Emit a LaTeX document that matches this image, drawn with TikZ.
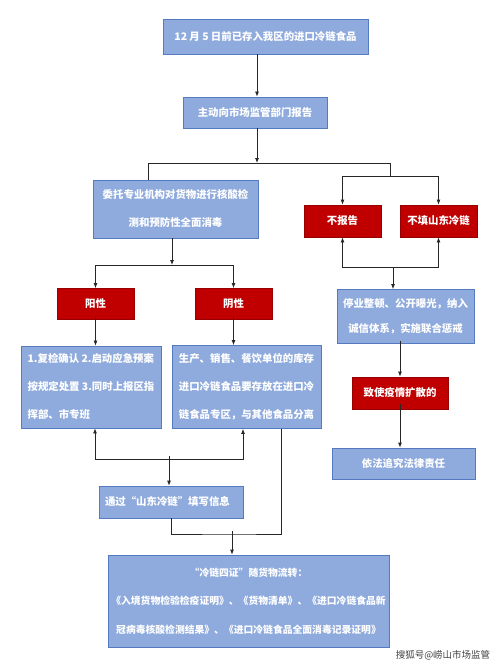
\documentclass[tikz,border=0pt]{standalone}
\usepackage{fontspec}
\newfontfamily\cjk{Noto Sans CJK SC}
\usetikzlibrary{arrows.meta}
\definecolor{boxblue}{RGB}{143,170,220}
\definecolor{boxedge}{RGB}{84,122,192}
\definecolor{alertred}{RGB}{192,0,0}
\definecolor{alertedge}{RGB}{150,0,0}

\begin{document}
\begin{tikzpicture}[x=1pt, y=-1pt,
	box/.style={draw=boxedge, fill=boxblue, line width=0.8pt, text=white, inner sep=0pt,
		font=\cjk\bfseries\fontsize{10.4}{28}\selectfont},
	alert/.style={draw=alertedge, fill=alertred, line width=0.8pt, text=white, inner sep=0pt,
		font=\cjk\bfseries\fontsize{10.4}{12}\selectfont},
	boxsize/.style 2 args={minimum width=#1pt, minimum height=#2pt},
	connect/.style={-{Latex[length=5pt,width=4pt]}, line width=0.8pt, draw=black!85},
	link/.style={line width=0.8pt, draw=black!85},
	]
	
	\useasboundingbox (0,0) rectangle (500,666);
	
	%-----------------------
	% Row heights
	%-----------------------
	\def\hstart{36.5}
	\def\hreport{112.5}
	\def\hsplit{163}
	\def\hresult{304}
	\def\hsteps{387}
	
	%-----------------------
	% Main line
	%-----------------------
	\node[box, boxsize={205}{35}] (start) at (265.5,\hstart) {12 月 5 日前已存入我区的进口冷链食品};
	\node[box, boxsize={144}{31}] (report) at (255,\hreport) {主动向市场监管部门报告};
	
	%-----------------------
	% Left branch: testing
	%-----------------------
	\node[box, boxsize={165}{58}, align=center] (entrust) at (175.5,209) {委托专业机构对货物进行核酸检\\测和预防性全面消毒};
	\node[alert, boxsize={77}{31}] (positive) at (95.5,\hresult) {阳性};
	\node[alert, boxsize={77}{31}] (negative) at (233.5,\hresult) {阴性};
	\node[box, boxsize={140}{82}, align=left] (handle) at (91,\hsteps) {1.复检确认 2.启动应急预案\\按规定处置 3.同时上报区指\\挥部、市专班};
	\node[box, boxsize={149}{83}, align=left] (store) at (246.5,\hsteps) {生产、销售、餐饮单位的库存\\进口冷链食品要存放在进口冷\\链食品专区，与其他食品分离};
	\node[box, boxsize={144}{32}, text width=132pt, align=left] (fillin) at (171,502) {通过“山东冷链”填写信息};
	\node[box, boxsize={281}{92}, align=center, font=\cjk\bfseries\fontsize{9.8}{28.5}\selectfont] (certs) at (248.5,601) {“冷链四证”随货物流转：\\《入境货物检验检疫证明》、《货物清单》、《进口冷链食品新\\冠病毒核酸检测结果》、《进口冷链食品全面消毒记录证明》};
	
	%-----------------------
	% Right branch: violations
	%-----------------------
	\node[alert, boxsize={77}{32}] (noreport) at (342.5,221) {不报告};
	\node[alert, boxsize={77}{32}] (nofill) at (438.5,221) {不填山东冷链};
	\node[box, boxsize={137}{54}, align=center, font=\cjk\bfseries\fontsize{10.4}{25}\selectfont] (suspend) at (405.5,316.5) {停业整顿、公开曝光，纳入\\诚信体系，实施联合惩戒};
	\node[alert, boxsize={96}{32}] (spread) at (400,393) {致使疫情扩散的};
	\node[box, boxsize={143}{31}] (liable) at (403.5,463.5) {依法追究法律责任};
	
	\node[font=\cjk\fontsize{9.5}{10}\selectfont, text=black!75] (watermark) at (443,655) {搜狐号@崂山市场监管};
	
	%-----------------------
	% Junctions
	%-----------------------
	\coordinate (split) at (257,\hsplit);
	\coordinate (splitL) at (148,\hsplit);
	\coordinate (splitR) at (390,\hsplit);
	\coordinate (hubR) at (390,176);
	\coordinate (hubB) at (393,267);
	\coordinate (fork) at (172,265);
	\coordinate (merge) at (169,459);
	\coordinate (join) at (232,534);
	
	%-----------------------
	% Connections
	%-----------------------
	% Top
	\draw[connect] (start.south -| split) -- (split |- report.north);
	\draw[connect] (split |- report.south) -- (split);
	\draw[link] (splitL) -- (splitR) -- (hubR);
	\draw[link] (splitL) -- (splitL |- entrust.north);
	
	% Right branch
	\draw[connect] (hubR) -| (noreport.north);
	\draw[connect] (hubR) -| (nofill.north);
	\draw[connect] (hubB) -| (noreport.south);
	\draw[connect] (hubB) -| (nofill.south);
	\draw[connect] (hubB) -- (hubB |- suspend.north);
	\draw[connect] ([yshift=3pt]suspend.south -| spread.north) -- (spread.north);
	\draw[connect] ([yshift=5pt]spread.south) -- (spread.south |- liable.north);
	
	% Left branch
	\draw[connect] (entrust.south -| fork) -- (fork);
	\draw[connect] (fork) -| (positive.north);
	\draw[connect] (fork) -| (negative.north);
	\draw[connect] ([yshift=3pt]positive.south) -- (positive.south |- handle.north);
	\draw[connect] ([yshift=3pt]negative.south) -- (negative.south |- store.north);
	
	% Results -> fill in
	\draw[connect] (merge) -| ([xshift=4pt]handle.south);
	\draw[connect] (merge) -| ([xshift=-3.5pt]store.south);
	\draw[connect] ([yshift=3pt]merge) -- (merge |- fillin.north);
	
	% -> certificates
	\draw[link] ([xshift=-40pt]store.south east) |- (join) -| (fillin.south);
	\draw[connect] ([yshift=3pt]join) -- (join |- certs.north);
	
\end{tikzpicture}
\end{document}
